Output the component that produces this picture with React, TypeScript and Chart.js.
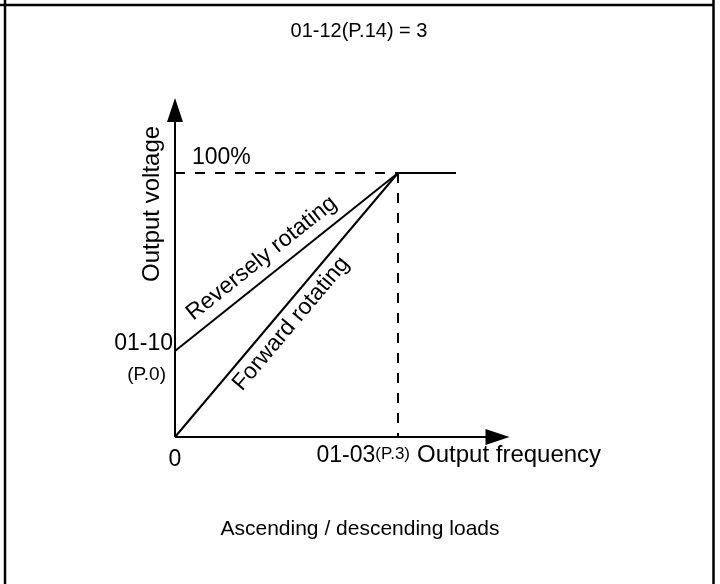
import React, { useEffect, useRef } from "react";
import { Chart, registerables } from "chart.js";

Chart.register(...registerables);

const FONT = '"Liberation Sans", Arial, Helvetica, sans-serif';

// x: output frequency as a fraction of 01-03 (P.3); y: output voltage in %
const baseFreq = [0, 1];
const forwardVoltage = [0, 100];
const reverseVoltage = [32.6, 100];
const flatFreq = [1, 1.26];
const flatVoltage = [100, 100];
const dashHFreq = [0, 1];
const dashHVoltage = [100, 100];
const dashVFreq = [1, 1];
const dashVVoltage = [100, 0];
const xAxisEnd = 1.5;
const yAxisEnd = 128.4;

const titleText = "01-12(P.14) = 3";
const footerText = "Ascending / descending loads";
const xAxisTitle = "Output frequency";
const yAxisTitle = "Output voltage";
const xTickLabels = ["0", "01-03", "(P.3)"];
const yTickLabels = ["100%", "01-10", "(P.0)"];
const curveLabels = ["Forward rotating", "Reversely rotating"];

const pts = (xs: number[], ys: number[]) => xs.map((x, i) => ({ x, y: ys[i] }));

function textAlong(
  ctx: CanvasRenderingContext2D,
  text: string,
  ax: number,
  ay: number,
  bx: number,
  by: number,
  t: number,
  offset: number
) {
  const a = Math.atan2(by - ay, bx - ax);
  const cx = ax + (bx - ax) * t + Math.sin(a) * offset;
  const cy = ay + (by - ay) * t - Math.cos(a) * offset;
  ctx.save();
  ctx.translate(cx, cy);
  ctx.rotate(a);
  ctx.textAlign = "center";
  ctx.textBaseline = "alphabetic";
  ctx.fillText(text, 0, 0);
  ctx.restore();
}

const annotate = {
  id: "annotate",
  afterDraw(chart: any) {
    const { ctx } = chart;
    const xs = chart.scales.x;
    const ys = chart.scales.y;
    const px = (v: number) => xs.getPixelForValue(v);
    const py = (v: number) => ys.getPixelForValue(v);
    ctx.save();
    ctx.fillStyle = "#000";
    ctx.strokeStyle = "#000";

    // frame
    ctx.lineWidth = 2.5;
    ctx.beginPath();
    ctx.moveTo(5, 0);
    ctx.lineTo(5, chart.height);
    ctx.moveTo(713.5, 0);
    ctx.lineTo(713.5, chart.height);
    ctx.moveTo(0, 5);
    ctx.lineTo(713.5, 5);
    ctx.stroke();

    // arrow heads
    const x0 = px(0);
    const y0 = py(0);
    const yt = py(yAxisEnd);
    ctx.beginPath();
    ctx.moveTo(x0, yt);
    ctx.lineTo(x0 - 8, yt + 24);
    ctx.lineTo(x0 + 8, yt + 24);
    ctx.closePath();
    ctx.fill();
    const xt = px(xAxisEnd);
    ctx.beginPath();
    ctx.moveTo(xt, y0);
    ctx.lineTo(xt - 24, y0 - 8);
    ctx.lineTo(xt - 24, y0 + 8);
    ctx.closePath();
    ctx.fill();

    // title & footer
    ctx.textAlign = "center";
    ctx.textBaseline = "alphabetic";
    ctx.font = `20px ${FONT}`;
    ctx.fillText(titleText, 359, 37);
    ctx.font = `21px ${FONT}`;
    ctx.fillText(footerText, 360, 535);

    // x labels
    ctx.font = `23px ${FONT}`;
    ctx.textAlign = "center";
    ctx.fillText(xTickLabels[0], x0, y0 + 29);
    ctx.font = `17px ${FONT}`;
    ctx.textAlign = "right";
    ctx.fillText(xTickLabels[2], px(1) + 12, y0 + 22);
    const pw = ctx.measureText(xTickLabels[2]).width;
    ctx.font = `23px ${FONT}`;
    ctx.fillText(xTickLabels[1], px(1) + 12 - pw, y0 + 25);
    ctx.textAlign = "left";
    ctx.font = `24px ${FONT}`;
    ctx.fillText(xAxisTitle, px(1) + 19, y0 + 25);

    // y labels
    ctx.font = `23px ${FONT}`;
    ctx.textAlign = "left";
    ctx.fillText(yTickLabels[0], x0 + 17, py(100) - 9);
    ctx.textAlign = "right";
    ctx.fillText(yTickLabels[1], x0 - 2, py(reverseVoltage[0]) - 1);
    ctx.font = `19px ${FONT}`;
    ctx.fillText(yTickLabels[2], x0 - 9, py(reverseVoltage[0]) + 29);

    // y axis title
    ctx.save();
    ctx.font = `24px ${FONT}`;
    ctx.translate(x0 - 16, (py(100) + py(reverseVoltage[0])) / 2 - 58);
    ctx.rotate(-Math.PI / 2);
    ctx.textAlign = "center";
    ctx.textBaseline = "alphabetic";
    ctx.fillText(yAxisTitle, 0, 0);
    ctx.restore();

    // curve labels
    ctx.font = `23px ${FONT}`;
    textAlong(
      ctx,
      curveLabels[1],
      px(baseFreq[0]),
      py(reverseVoltage[0]),
      px(baseFreq[1]),
      py(reverseVoltage[1]),
      0.44,
      12
    );
    textAlong(
      ctx,
      curveLabels[0],
      px(baseFreq[0]),
      py(forwardVoltage[0]),
      px(baseFreq[1]),
      py(forwardVoltage[1]),
      0.467,
      -22
    );
    ctx.restore();
  },
};

export default function App() {
  const ref = useRef<HTMLCanvasElement | null>(null);

  useEffect(() => {
    if (!ref.current) return;
    const solid = { borderColor: "#000", borderWidth: 2, pointRadius: 0, showLine: true, clip: false as any };
    const dashed = { ...solid, borderWidth: 2, borderDash: [10, 10] };
    const chart = new Chart(ref.current, {
      type: "scatter",
      data: {
        datasets: [
          { label: "x axis", data: pts([0, xAxisEnd - 0.08], [0, 0]), ...solid },
          { label: "y axis", data: pts([0, 0], [0, yAxisEnd - 6]), ...solid },
          { label: curveLabels[0], data: pts(baseFreq, forwardVoltage), ...solid },
          { label: curveLabels[1], data: pts(baseFreq, reverseVoltage), ...solid },
          { label: "constant", data: pts(flatFreq, flatVoltage), ...solid },
          { label: "100% guide", data: pts(dashHFreq, dashHVoltage), ...dashed },
          { label: "01-03 guide", data: pts(dashVFreq, dashVVoltage), ...dashed },
        ],
      },
      options: {
        responsive: false,
        animation: false,
        events: [],
        layout: { padding: { left: 175, right: 210.5, top: 98, bottom: 147 } },
        plugins: { legend: { display: false }, tooltip: { enabled: false }, title: { display: false } },
        scales: {
          x: { type: "linear", min: 0, max: xAxisEnd, display: false },
          y: { type: "linear", min: 0, max: yAxisEnd, display: false },
        },
      },
      plugins: [annotate],
    });
    return () => chart.destroy();
  }, []);

  return (
    <div style={{ position: "absolute", left: 0, top: 0, width: 720, height: 584, background: "#fff" }}>
      <canvas ref={ref} width={720} height={584} style={{ display: "block" }} />
    </div>
  );
}
